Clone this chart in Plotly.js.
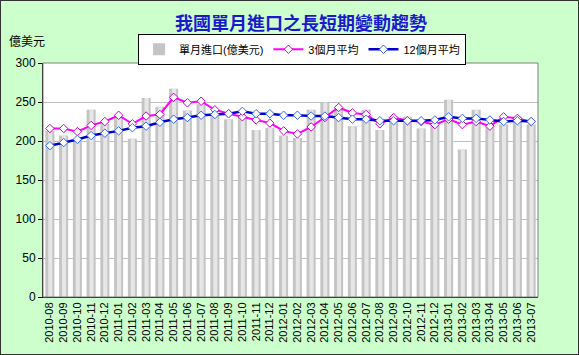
<!DOCTYPE html>
<html><head><meta charset="utf-8">
<script src="https://cdn.plot.ly/plotly-3.0.1.min.js"></script>
<style>html,body{margin:0;padding:0;background:#CCFFCC}#c{width:577px;height:353px;border:1px solid #333}</style>
</head><body><div id="c"></div>
<script>
const months = ["2010-08","2010-09","2010-10","2010-11","2010-12","2011-01","2011-02","2011-03","2011-04","2011-05","2011-06","2011-07","2011-08","2011-09","2011-10","2011-11","2011-12","2012-01","2012-02","2012-03","2012-04","2012-05","2012-06","2012-07","2012-08","2012-09","2012-10","2012-11","2012-12","2013-01","2013-02","2013-03","2013-04","2013-05","2013-06","2013-07"];
const monthly = [213,207,203,240,222,230,203,255,244,267,239,247,233,228,231,214,217,207,204,240,249,242,219,240,214,231,231,216,223,253,189,240,219,221,231,221];
const avg3 = [216,216,212,220,225,233,222,232,234,256,249,251,240,235,231,227,223,213,209,218,230,243,236,234,222,230,226,225,221,228,221,225,219,231,229,225];
const avg12 = [194,198,202,207,210,213,217,219,224,228,230,233,234,235,238,235,235,233,233,232,232,230,228,228,226,226,226,226,227,231,229,229,227,225,226,225];
const yTicks = [0,50,100,150,200,250,300];

const font = "Arial, 'Liberation Sans', 'Noto Sans CJK TC', sans-serif";
const traces = [
  {type:'bar', x:months, y:monthly, name:'單月進口(億美元)', width:0.66,
   marker:{color:'#C4C4C4', line:{width:0}}},
  {type:'bar', x:months, y:monthly, showlegend:false, hoverinfo:'skip', width:0.3, offset:-0.12,
   marker:{color:'#E6E6E6', line:{width:0}}},
  {type:'scatter', mode:'lines+markers', x:months, y:avg3, name:'3個月平均',
   line:{color:'#FF00FF', width:2}, marker:{symbol:'diamond', size:6.5, color:'#FFFFFF', line:{color:'#CC00CC', width:1}}},
  {type:'scatter', mode:'lines+markers', x:months, y:avg12, name:'12個月平均',
   line:{color:'#0000CC', width:2.5}, marker:{symbol:'diamond', size:6.5, color:'#FFFFFF', line:{color:'#3366FF', width:1}}}
];
const layout = {
  width:577, height:353,
  margin:{l:42, r:40, t:62, b:57},
  paper_bgcolor:'#CCFFCC', plot_bgcolor:'#FFFFFF',
  font:{family:font, size:12, color:'#000'},
  barmode:'overlay', bargap:0.34,
  title:{text:'我國單月進口之長短期變動趨勢', x:0.52, xanchor:'center', yref:'container', y:0.935, yanchor:'middle',
    font:{family:"'Noto Sans CJK TC', sans-serif", size:18, color:'#1A1ACC', weight:'bold'}},
  xaxis:{type:'category', tickangle:-90, tickfont:{size:11}, showline:true, linecolor:'#000', mirror:false,
    ticks:'', showgrid:false, range:[-0.5,35.5], fixedrange:true},
  yaxis:{range:[0,300], tickvals:yTicks, ticktext:yTicks.map(String), showgrid:true, gridcolor:'#C0C0C0',
    showline:true, linecolor:'#000', ticks:'outside', ticklen:4, tickcolor:'#000', tickfont:{size:12}, zeroline:false},
  shapes:[{type:'rect', xref:'paper', yref:'paper', x0:0, x1:1, y0:0, y1:1, line:{color:'#808080', width:1}}],
  legend:{orientation:'h', x:0.192, xanchor:'left', y:1.125, yanchor:'top', bgcolor:'#FFFFFF', bordercolor:'#000', borderwidth:1,
    font:{size:11}, itemwidth:30, tracegroupgap:0, traceorder:'normal'},
  annotations:[{text:'億美元', xref:'paper', yref:'paper', x:-0.072, xanchor:'left', y:1.09, yanchor:'middle', showarrow:false, font:{size:12}}],
  showlegend:true
};
Plotly.newPlot('c', traces, layout, {displayModeBar:false, staticPlot:true});
</script></body></html>
